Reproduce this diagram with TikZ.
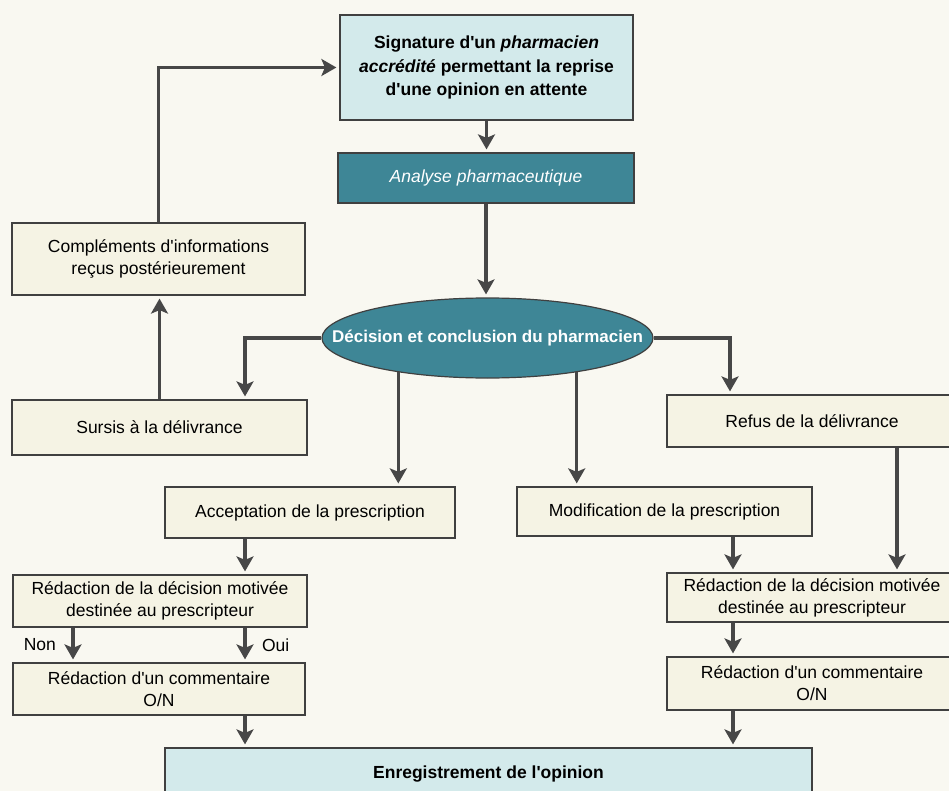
\documentclass[tikz,border=0pt]{standalone}
\usepackage{fontspec}
\setmainfont{Liberation Sans}
\usepackage{tikz}
\usetikzlibrary{arrows.meta,shapes.geometric}
\definecolor{pageTone}{HTML}{F9F8F1}
\definecolor{creamFill}{HTML}{F5F3E4}
\definecolor{paleCyan}{HTML}{D3EAEB}
\definecolor{tealDark}{HTML}{3E8696}
\definecolor{inkGrey}{HTML}{474747}
\colorlet{boxLine}{inkGrey!90!black}
\newcommand\ap{\textquotesingle}
\tikzset{
  box text/.style={font=\fontsize{17.5}{22}\selectfont},
  bold text/.style={font=\fontsize{17.5}{23.5}\selectfont\bfseries},
  every flow box/.style={draw=boxLine,line width=1.2pt,inner sep=0pt,align=center},
  creambox/.style 2 args={every flow box,box text,fill=creamFill,minimum width=#1,minimum height=#2},
  bluebox/.style 2 args={every flow box,bold text,fill=paleCyan,minimum width=#1,minimum height=#2},
  tealbox/.style 2 args={every flow box,fill=tealDark,text=white,
    font=\fontsize{17.5}{22}\selectfont\itshape,minimum width=#1,minimum height=#2},
  flowarrow/.style={draw=inkGrey,line width=3.5pt,shorten >=3pt,
    -{Stealth[length=15pt,width=17pt,inset=3.5pt]}},
}

\begin{document}
\begin{tikzpicture}[
  x=1pt,y=-1pt,
  decision ellipse/.style={ellipse,draw=boxLine,line width=1.2pt,fill=tealDark,
    minimum width=331,minimum height=80,inner sep=0pt},
  decision text/.style={font=\fontsize{17}{20}\selectfont\bfseries,text=white},
]
\useasboundingbox (0,0) rectangle (949,791);
\fill[pageTone] (0,0) rectangle (949,791);
\clip (0,0) rectangle (949,791);

\coordinate (colN) at (73,0);
\coordinate (colA) at (245,0);
\coordinate (colB) at (733,0);
\coordinate (colS) at (897,0);

\node[bluebox={293}{105}] (signature) at (486.5,67.5)
  {Signature d\ap un \textit{pharmacien}\\ \textit{accrédité} permettant la reprise\\ d\ap une opinion en attente};
\node[tealbox={296}{50}] (analyse) at (486,178) {Analyse pharmaceutique};
\node[decision ellipse,label={[decision text]center:Décision et conclusion du pharmacien}]
  (decision) at (487.5,338) {};

\node[creambox={293}{72}] (complements) at (158.5,259) {Compléments d\ap informations\\ reçus postérieurement};
\node[creambox={295}{55}] (sursis) at (159.5,427.5) {Sursis à la délivrance};
\node[creambox={290}{52}] (refus) at (812,421) {Refus de la délivrance};
\node[creambox={290}{51}] (acceptation) at (310,512.5) {Acceptation de la prescription};
\node[creambox={295}{49}] (modification) at (664.5,511.5) {Modification de la prescription};

\node[creambox={294}{52}] (redactionA) at (160,601) {Rédaction de la décision motivée\\ destinée au prescripteur};
\node[creambox={292}{52}] (commentA) at (159,689) {Rédaction d\ap un commentaire\\ O/N};
\node[creambox={290}{49}] (redactionB) at (812,597.5) {Rédaction de la décision motivée\\ destinée au prescripteur};
\node[creambox={290}{53}] (commentB) at (812,683.5) {Rédaction d\ap un commentaire\\ O/N};
\node[bluebox={647}{52}] (enregistrement) at (488.5,774) {Enregistrement de l\ap opinion};

\draw[flowarrow] (signature.south) -- (signature.south |- analyse.north);
\draw[flowarrow] (analyse.south) -- (analyse.south |- decision.north);
\draw[flowarrow] (complements.north) |- (signature.west);
\draw[flowarrow] (sursis.north) -- (sursis.north |- complements.south);
\draw[flowarrow] (decision.west) -| (colA |- sursis.north);
\draw[flowarrow] (decision.east) -| ([xshift=-3pt]colB |- refus.north);
\draw[flowarrow] (decision.201) -- (decision.201 |- acceptation.north);
\draw[flowarrow] (decision.339) -- (decision.339 |- modification.north);

\draw[flowarrow] (colA |- acceptation.south) -- (colA |- redactionA.north);
\draw[flowarrow] (colN |- redactionA.south) -- (colN |- commentA.north)
  node[midway,left=12pt,box text] {Non};
\draw[flowarrow] (colA |- redactionA.south) -- (colA |- commentA.north)
  node[midway,right=12pt,box text] {Oui};
\draw[flowarrow] (colA |- commentA.south) -- (colA |- enregistrement.north);

\draw[flowarrow] (colB |- modification.south) -- (colB |- redactionB.north);
\draw[flowarrow] (colS |- refus.south) -- (colS |- redactionB.north);
\draw[flowarrow] (colB |- redactionB.south) -- (colB |- commentB.north);
\draw[flowarrow] (colB |- commentB.south) -- (colB |- enregistrement.north);
\end{tikzpicture}
\end{document}
